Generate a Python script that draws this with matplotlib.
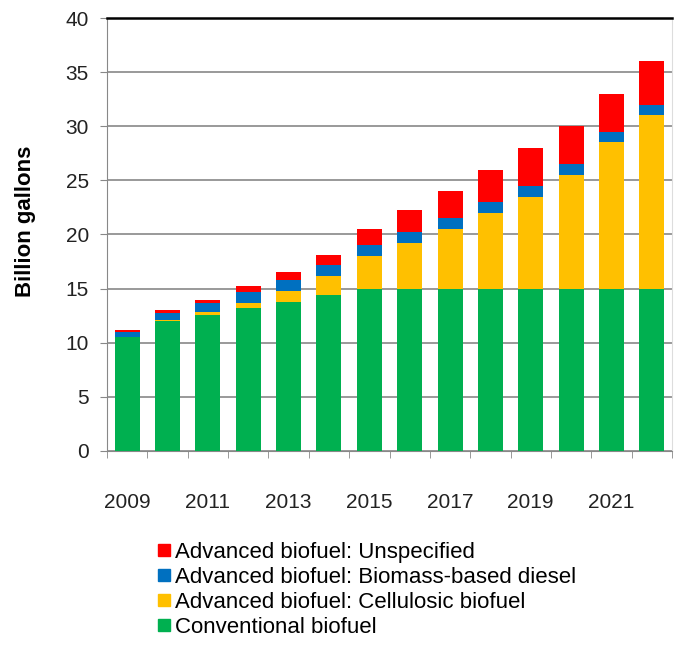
import matplotlib
matplotlib.use("Agg")
import matplotlib.pyplot as plt
import numpy as np
from matplotlib.lines import Line2D

years = [2009, 2010, 2011, 2012, 2013, 2014, 2015, 2016, 2017, 2018, 2019, 2020, 2021, 2022]
conventional = [10.5, 12.0, 12.6, 13.2, 13.8, 14.4, 15.0, 15.0, 15.0, 15.0, 15.0, 15.0, 15.0, 15.0]
cellulosic = [0.0, 0.1, 0.25, 0.5, 1.0, 1.75, 3.0, 4.25, 5.5, 7.0, 8.5, 10.5, 13.5, 16.0]
biodiesel = [0.5, 0.65, 0.8, 1.0, 1.0, 1.0, 1.0, 1.0, 1.0, 1.0, 1.0, 1.0, 1.0, 1.0]
unspecified = [0.2, 0.25, 0.3, 0.5, 0.75, 1.0, 1.5, 2.0, 2.5, 3.0, 3.5, 3.5, 3.5, 4.0]
labels = ["Conventional biofuel", "Advanced biofuel: Cellulosic biofuel",
          "Advanced biofuel: Biomass-based diesel", "Advanced biofuel: Unspecified"]
colors = ["#00B050", "#FFC000", "#0070C0", "#FF0000"]
tick_years = [2009, 2011, 2013, 2015, 2017, 2019, 2021]

plt.rcParams['font.family'] = ['Liberation Sans', 'DejaVu Sans']
fig = plt.figure(figsize=(6.77, 6.61), dpi=100)
ax = fig.add_axes([107/677, 1-451/661, (672-107)/677, (451-18)/661])

x = np.arange(len(years))
bottom = np.zeros(len(years))
for vals, c in zip([conventional, cellulosic, biodiesel, unspecified], colors):
    ax.bar(x, vals, width=0.62, bottom=bottom, color=c, zorder=3)
    bottom += np.array(vals)

ax.set_xlim(-0.5, len(years) - 0.5)
ax.set_ylim(0, 40)
ax.set_yticks(range(0, 41, 5))
ax.yaxis.grid(True, color="#888888", linewidth=1.2, zorder=0)
ax.axhline(40, color="black", linewidth=1.8, zorder=4, clip_on=False)
ax.set_xticks([years.index(y) for y in tick_years])
ax.set_xticklabels([str(y) for y in tick_years])
ax.set_xticks(np.arange(-0.5, len(years)), minor=True)
ax.tick_params(axis='x', which='major', length=0, pad=30, labelsize=15, colors="#222222")
ax.tick_params(axis='x', which='minor', length=5, direction='out', color="#888888")
ax.tick_params(axis='y', length=5, direction='out', color="#888888", labelsize=15, pad=8)
for lbl in ax.get_yticklabels():
    lbl.set_color("#222222")
for lbl in ax.get_xticklabels():
    lbl.set_color("#222222")
ax.spines['top'].set_visible(False)
ax.spines['right'].set_color("#dddddd")
ax.spines['left'].set_color("#888888")
ax.spines['bottom'].set_color("#888888")
ax.set_ylabel("Billion gallons", fontsize=16, fontweight='bold')
ax.yaxis.set_label_coords(-0.125, 0.53)

handles = [Line2D([], [], marker='s', linestyle='none', markersize=9, color=c) for c in colors[::-1]]
fig.legend(handles, labels[::-1], loc='upper left', bbox_to_anchor=(148/677, 1-533/661),
           frameon=False, fontsize=16, handlelength=0.6, handletextpad=0.2,
           labelspacing=0.18, borderaxespad=0)

fig.savefig("out.png", dpi=100)
